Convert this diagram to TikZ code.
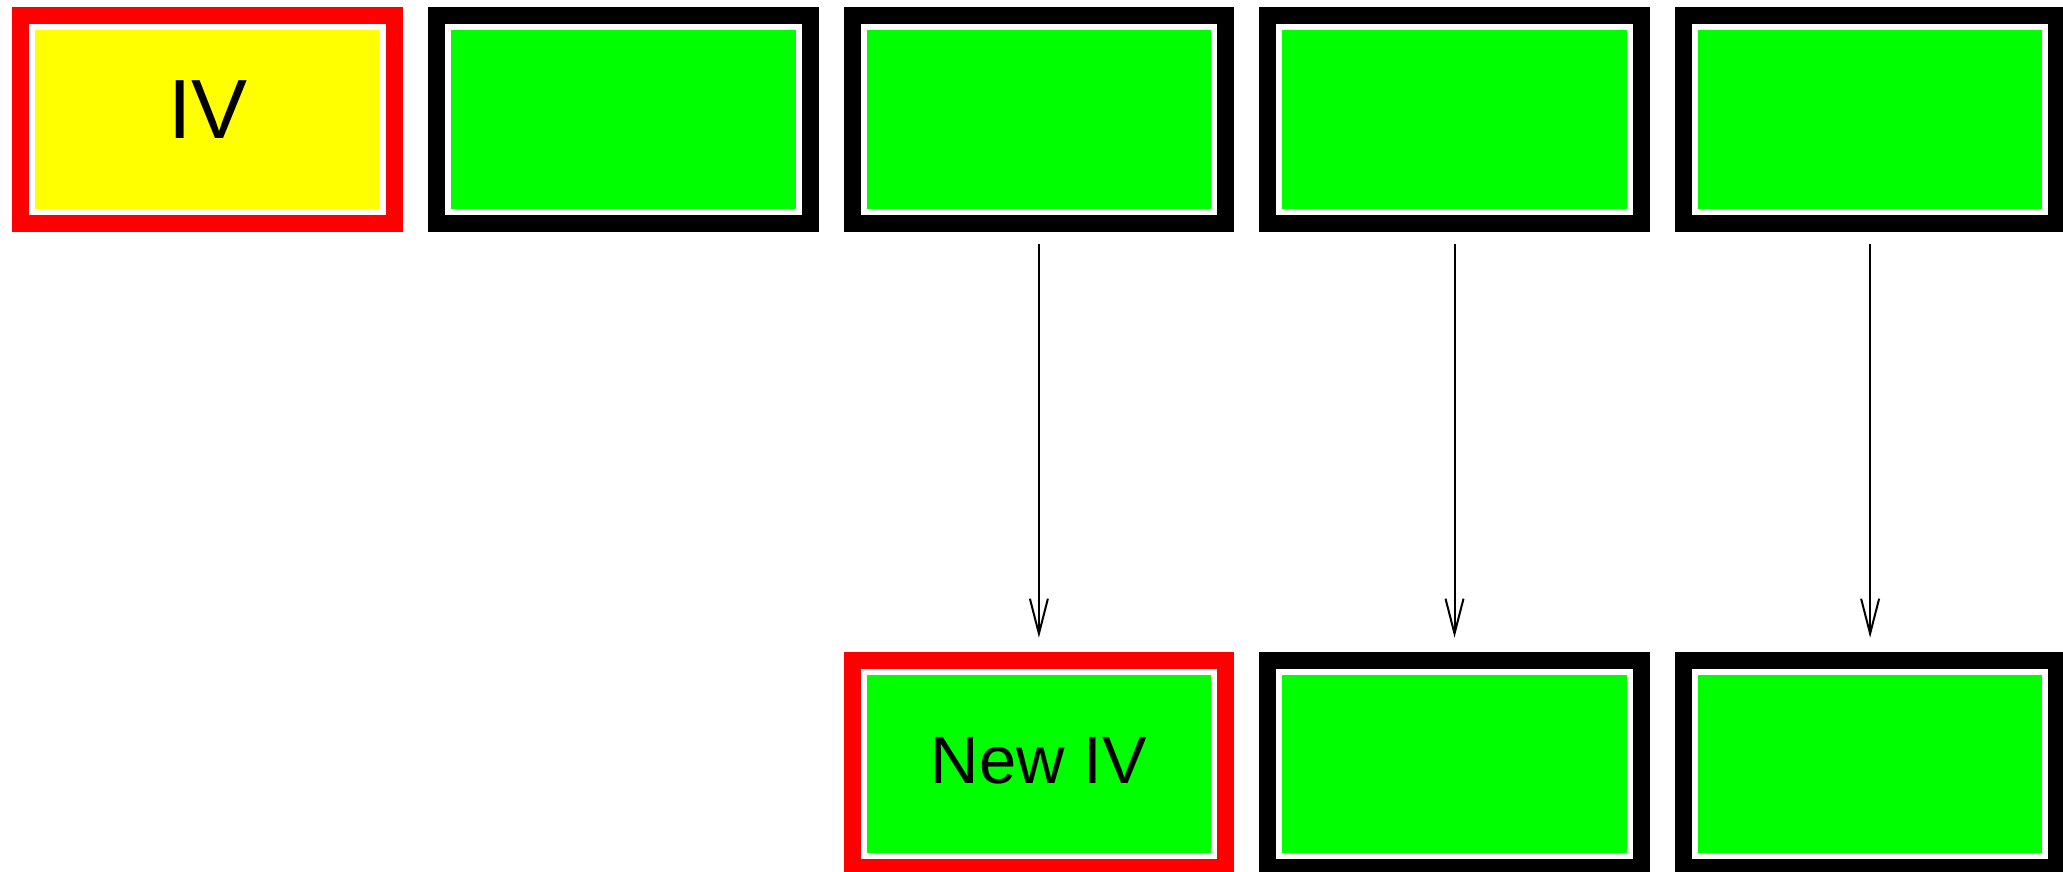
\documentclass[tikz,border=0pt]{standalone}
\usepackage{fontspec}
\setmainfont{Liberation Sans}
\usetikzlibrary{arrows.meta}
\definecolor{boxred}{HTML}{FF0000}
\definecolor{boxgreen}{HTML}{00FF00}
\definecolor{boxyellow}{HTML}{FFFF00}
\tikzset{
  cell/.style={fill=white, inner sep=0pt, outer sep=0pt,
    minimum width=356.7pt, minimum height=190.4pt,
    preaction={draw=#1, line width=34pt}},
  cellfill/.style={path picture={\fill[#1]
    ([shift={(6pt,6pt)}]path picture bounding box.south west) rectangle
    ([shift={(-6pt,-6pt)}]path picture bounding box.north east);}},
  flow/.style={draw=black, line width=2pt,
    -{Straight Barb[length=35pt,width=18pt,line width=2pt]},
    shorten <=29pt, shorten >=31pt}
}
\begin{document}
\begin{tikzpicture}[x=1pt,y=-1pt]
\useasboundingbox[fill=white] (0,0) rectangle (2063,871);
\node[cell=boxred, cellfill=boxyellow, font=\fontsize{84}{88}\selectfont, text depth=19pt] (iv) at (207.7,119.5) {IV};
\node[cell=black, cellfill=boxgreen] (t2) at (623.3,119.5) {};
\node[cell=black, cellfill=boxgreen] (t3) at (1038.9,119.5) {};
\node[cell=black, cellfill=boxgreen] (t4) at (1454.5,119.5) {};
\node[cell=black, cellfill=boxgreen] (t5) at (1870.1,119.5) {};
\node[cell=boxred, cellfill=boxgreen, font=\fontsize{67}{70}\selectfont, text depth=7pt] (niv) at (1038.9,763.9) {New IV};
\node[cell=black, cellfill=boxgreen] (b4) at (1454.5,763.9) {};
\node[cell=black, cellfill=boxgreen] (b5) at (1870.1,763.9) {};
\draw[flow] (t3.south) -- (niv.north);
\draw[flow] (t4.south) -- (b4.north);
\draw[flow] (t5.south) -- (b5.north);
\end{tikzpicture}
\end{document}
